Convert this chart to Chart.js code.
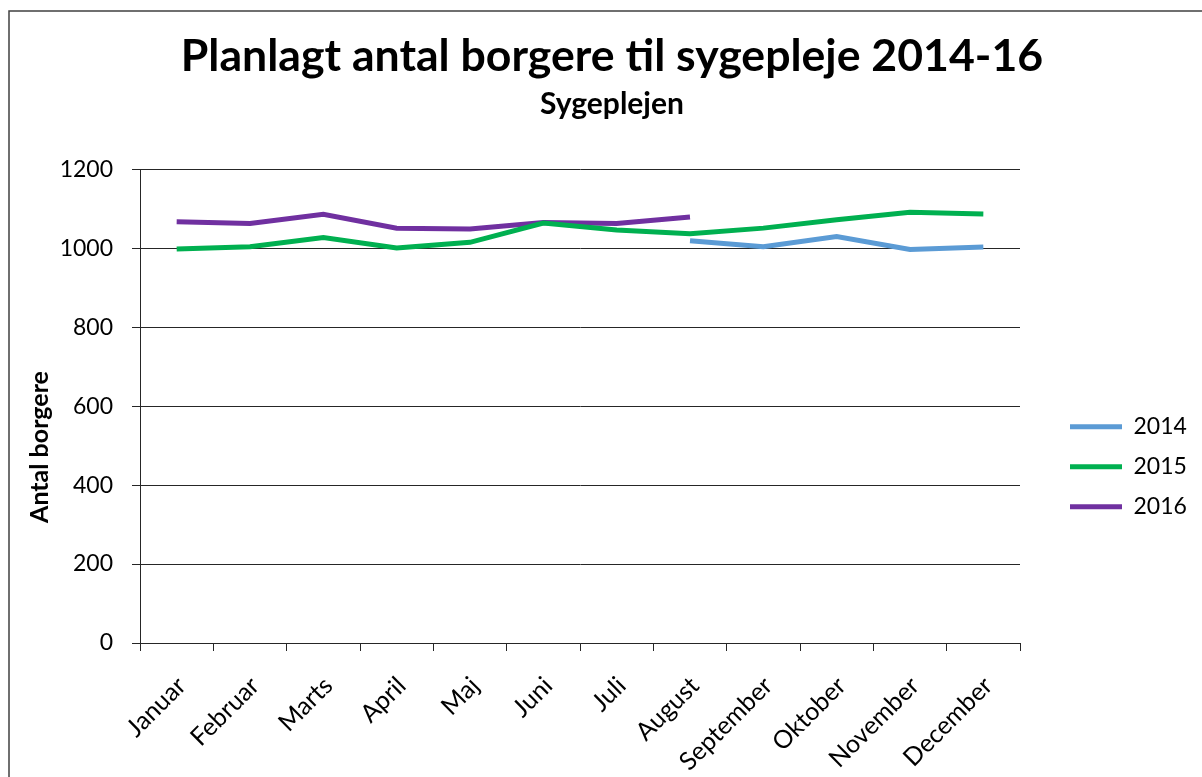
<!DOCTYPE html>
<html>
<head>
<meta charset="utf-8">
<script src="https://cdn.jsdelivr.net/npm/chart.js@4.4.1/dist/chart.umd.min.js"></script>
<style>
html,body{margin:0;padding:0;background:#fff;}
#wrap{width:1202px;height:777px;position:relative;}
</style>
</head>
<body>
<div id="wrap"><canvas id="c" width="1202" height="777"></canvas></div>
<script>
// ---- data ----
const categories = ['Januar','Februar','Marts','April','Maj','Juni','Juli','August','September','Oktober','November','December'];
const seriesNames = ['2014','2015','2016'];
const values2014 = [null,null,null,null,null,null,null,1019,1004,1030,997,1003];
const values2015 = [998,1004,1027,1001,1015,1064,1046,1037,1051,1072,1091,1087];
const values2016 = [1067,1063,1086,1051,1049,1065,1063,1079,null,null,null,null];
const yTickValues = [0,200,400,600,800,1000,1200];
const titleText = 'Planlagt antal borgere til sygepleje 2014-16';
const subtitleText = 'Sygeplejen';
const yAxisTitle = 'Antal borgere';

const FONT = 'Lato';
const colors = ['#5B9BD5','#00B050','#7030A0'];
const AXIS = '#262626';

const framePlugin = {
  id: 'frame',
  beforeLayout(chart) {
    const lg = chart.legend;
    if (lg && !lg._patched) {
      const origFit = lg.fit.bind(lg);
      lg.fit = function () { origFit(); this.width = 182; };
      lg._patched = true;
    }
  },
  beforeDraw(chart) {
    const ctx = chart.ctx;
    ctx.save();
    ctx.fillStyle = '#fff';
    ctx.fillRect(0, 0, chart.width, chart.height);
    ctx.strokeStyle = '#404040';
    ctx.lineWidth = 1.5;
    ctx.strokeRect(9, 11, 1400, 1000);
    ctx.restore();
    const lg = chart.legend;
    if (lg) {
      lg.left = 1053; lg.right = 1202;
      lg.top = 300; lg.bottom = 633.4;
    }
  },
  afterDraw(chart) {
    const ctx = chart.ctx;
    ctx.save();
    ctx.translate(40, 447);
    ctx.rotate(-Math.PI / 2);
    ctx.font = 'bold 25px ' + FONT;
    ctx.fillStyle = '#000';
    ctx.textAlign = 'center';
    ctx.textBaseline = 'middle';
    ctx.fillText(yAxisTitle, 0, 0);
    ctx.restore();
  }
};

const seriesValues = [values2014, values2015, values2016];
const datasets = seriesNames.map((name, i) => ({
  label: name,
  data: seriesValues[i],
  borderColor: colors[i],
  backgroundColor: colors[i],
  borderWidth: 5,
  pointRadius: 0,
  pointHoverRadius: 0,
  tension: 0,
  fill: false,
  spanGaps: false
}));

new Chart(document.getElementById('c'), {
  type: 'line',
  data: { labels: categories, datasets },
  plugins: [framePlugin],
  options: {
    responsive: false,
    animation: false,
    devicePixelRatio: 1,
    layout: { padding: { left: 22, top: 0, right: 0, bottom: 0 } },
    plugins: {
      tooltip: { enabled: false },
      title: {
        display: true, text: titleText, color: '#000',
        font: { family: FONT, size: 44.6, weight: 'bold' },
        padding: { top: 30, bottom: 0 }
      },
      subtitle: {
        display: true, text: subtitleText, color: '#000',
        font: { family: FONT, size: 30, weight: 'bold' },
        padding: { top: 2.5, bottom: 47.3 }
      },
      legend: {
        display: true, position: 'right', align: 'center',
        labels: {
          boxWidth: 52, boxHeight: 5, padding: 17, color: '#000',
          font: { family: FONT, size: 23 },
          generateLabels(chart) {
            const items = Chart.defaults.plugins.legend.labels.generateLabels(chart);
            items.forEach(it => { it.lineWidth = 0; it.fillStyle = it.strokeStyle; });
            return items;
          }
        }
      }
    },
    scales: {
      x: {
        type: 'category',
        offset: true,
        grid: { offset: true, drawOnChartArea: false, drawTicks: true, tickLength: 8, color: AXIS, lineWidth: 1 },
        border: { color: AXIS, width: 1 },
        ticks: { autoSkip: false, maxRotation: 45, minRotation: 45, color: '#000', font: { family: FONT, size: 25 }, padding: 20, labelOffset: 5 },
        afterFit(s) { s.height = 134; }
      },
      y: {
        min: 0, max: 1200,
        afterBuildTicks(s) { s.ticks = yTickValues.map(v => ({ value: v })); },
        grid: { color: AXIS, lineWidth: 1, tickLength: 8, drawTicks: true },
        border: { color: AXIS, width: 1 },
        ticks: { color: '#000', font: { family: FONT, size: 23 }, padding: 19, callback: v => String(v) },
        afterFit(s) { s.width = 118; }
      }
    }
  }
});
</script>
</body>
</html>
